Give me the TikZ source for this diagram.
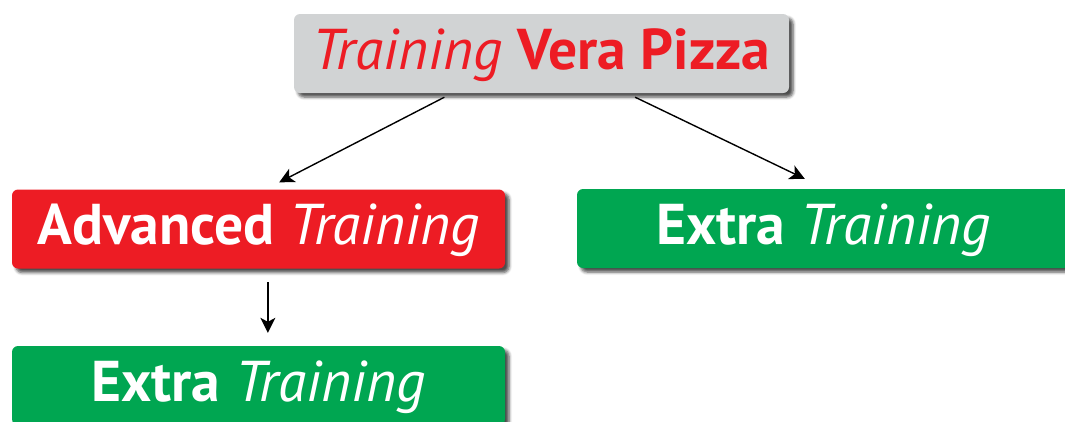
\documentclass[tikz,border=0pt]{standalone}
\usepackage{fontspec}
\setmainfont{PT Sans}
\usetikzlibrary{calc,arrows.meta,shadows.blur}
\definecolor{vpred}{HTML}{ED1C24}
\definecolor{vpgreen}{HTML}{00A651}
\definecolor{vpgray}{HTML}{D1D3D4}
\tikzset{
  box/.style={rounded corners=6pt, minimum width=493pt, minimum height=79pt,
    inner sep=0pt, text height=40pt, text depth=9pt, font=\fontsize{57.5}{60}\selectfont,
    blur shadow={shadow xshift=4pt, shadow yshift=-4pt, shadow blur steps=5, shadow blur radius=3pt, shadow opacity=70}},
  graybox/.style={box, fill=vpgray, text=vpred, minimum width=495pt},
  redbox/.style={box, fill=vpred, text=white},
  greenbox/.style={box, fill=vpgreen, text=white},
  arr/.style={line width=1.4pt, -{Stealth[length=15pt,width=15pt,inset=4pt]}}
}
\begin{document}
\begin{tikzpicture}[x=1pt,y=-1pt]
\useasboundingbox (0,0) rectangle (1065,421);
\clip (0,0) rectangle (1065,421);
\node[graybox] (top) at (541.5,53.5) {\textit{Training} \textbf{Vera Pizza}};
\node[redbox] (adv) at (258.5,229) {\textbf{Advanced} \textit{Training}};
\node[greenbox] (ext1) at (823.5,228.5) {\textbf{Extra} \textit{Training}};
\node[greenbox] (ext2) at (258.5,385.5) {\textbf{Extra} \textit{Training}};
\coordinate (s1) at ($($(top.south west)!0.304!(top.south east)$)+(0,4)$);
\coordinate (e1) at ($($(adv.north west)!0.542!(adv.north east)$)+(0,-7)$);
\coordinate (s2) at ($($(top.south west)!0.689!(top.south east)$)+(0,4)$);
\coordinate (e2) at ($($(ext1.north west)!0.462!(ext1.north east)$)+(0,-10)$);
\coordinate (s3) at ($($(adv.south west)!0.519!(adv.south east)$)+(0,13.5)$);
\coordinate (e3) at ($($(ext2.north west)!0.519!(ext2.north east)$)+(0,-13)$);
\draw[arr] (s1) -- (e1);
\draw[arr] (s2) -- (e2);
\draw[arr] (s3) -- (e3);
\end{tikzpicture}
\end{document}
